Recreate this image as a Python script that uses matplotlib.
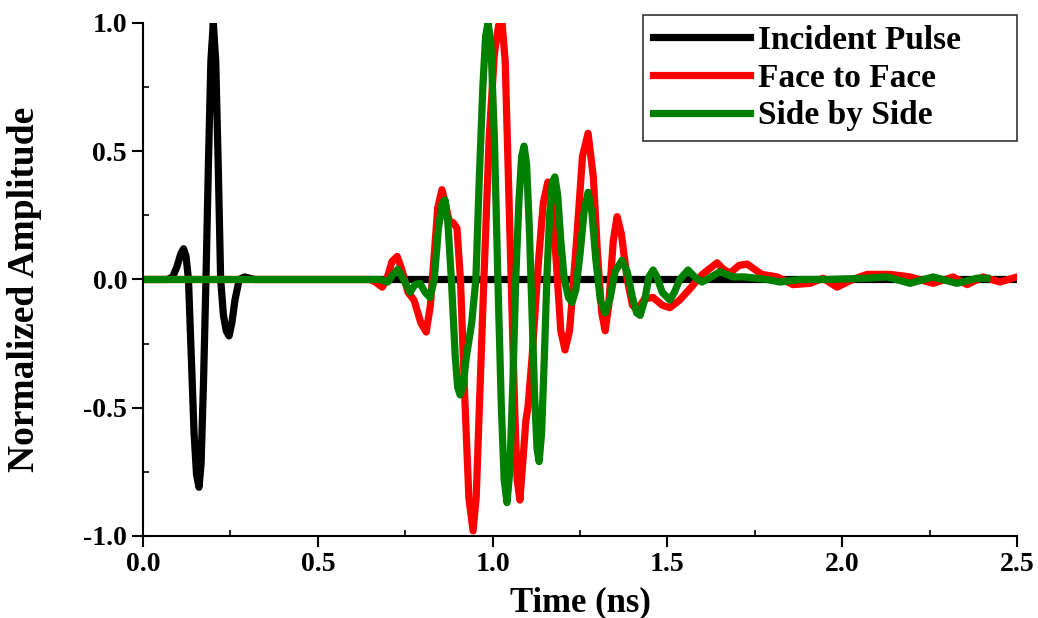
import matplotlib.pyplot as plt
from matplotlib.ticker import MultipleLocator

plt.rcParams['font.family'] = ['Liberation Serif', 'DejaVu Serif']
plt.rcParams['font.weight'] = 'bold'
plt.rcParams['axes.unicode_minus'] = False

# values (time in ns, normalized amplitude)
t_inc = [0.0, 0.07, 0.085, 0.097, 0.108, 0.116, 0.123, 0.13, 0.138, 0.146, 0.153,
         0.16, 0.166, 0.173, 0.18, 0.187, 0.194, 0.201, 0.208, 0.215, 0.222,
         0.23, 0.238, 0.246, 0.254, 0.263, 0.275, 0.29, 0.32, 2.5]
v_inc = [0.0, 0.0, 0.01, 0.05, 0.1, 0.12, 0.09, 0.0, -0.3, -0.6, -0.76,
         -0.81, -0.72, -0.4, 0.0, 0.45, 0.85, 1.0, 0.85, 0.45, 0.0,
         -0.14, -0.2, -0.22, -0.17, -0.08, 0.0, 0.01, 0.0, 0.0]

t_face = [0.0, 0.649, 0.665, 0.684, 0.697, 0.712, 0.727, 0.74, 0.758, 0.775, 0.795,
          0.81, 0.822, 0.832, 0.843, 0.855, 0.866, 0.875, 0.888, 0.898, 0.908,
          0.92, 0.932, 0.944, 0.953, 0.962, 0.975, 0.99, 1.005, 1.017, 1.027,
          1.036, 1.045, 1.053, 1.063, 1.07, 1.078, 1.087, 1.095, 1.101, 1.113,
          1.13, 1.145, 1.158, 1.17, 1.183, 1.195, 1.207, 1.22, 1.24, 1.257,
          1.273, 1.288, 1.3, 1.312, 1.322, 1.332, 1.345, 1.356, 1.368, 1.385,
          1.4, 1.413, 1.435, 1.459, 1.485, 1.507, 1.535, 1.565, 1.6, 1.642,
          1.66, 1.679, 1.705, 1.728, 1.77, 1.814, 1.859, 1.908, 1.945, 1.985,
          2.03, 2.071, 2.137, 2.194, 2.26, 2.317, 2.357, 2.403, 2.451, 2.5]
v_face = [0.0, 0.0, -0.01, -0.03, 0.0, 0.07, 0.09, 0.04, -0.05, -0.08, -0.17,
          -0.205, -0.1, 0.08, 0.28, 0.35, 0.29, 0.23, 0.22, 0.2, 0.0,
          -0.45, -0.85, -0.98, -0.85, -0.5, 0.0, 0.55, 0.88, 0.99, 1.0,
          0.85, 0.4, 0.0, -0.5, -0.78, -0.86, -0.7, -0.55, -0.5, -0.3,
          0.05, 0.3, 0.38, 0.3, 0.05, -0.2, -0.275, -0.2, 0.15, 0.48,
          0.57, 0.4, 0.1, -0.13, -0.2, -0.1, 0.15, 0.245, 0.18, 0.0,
          -0.1, -0.12, -0.075, -0.07, -0.1, -0.11, -0.08, -0.035, 0.02, 0.065,
          0.04, 0.025, 0.055, 0.06, 0.02, 0.01, -0.02, -0.015, 0.005, -0.03,
          0.0, 0.02, 0.02, 0.01, -0.015, 0.01, -0.02, 0.01, -0.01, 0.01]

t_side = [0.0, 0.678, 0.7, 0.715, 0.729, 0.745, 0.764, 0.778, 0.792, 0.807, 0.821,
          0.833, 0.845, 0.856, 0.864, 0.872, 0.882, 0.893, 0.9, 0.907, 0.915,
          0.925, 0.94, 0.952, 0.962, 0.972, 0.98, 0.987, 0.995, 1.005, 1.015,
          1.025, 1.033, 1.041, 1.049, 1.058, 1.066, 1.075, 1.083, 1.09, 1.097,
          1.105, 1.112, 1.12, 1.127, 1.133, 1.14, 1.148, 1.155, 1.163, 1.171,
          1.178, 1.186, 1.195, 1.205, 1.217, 1.227, 1.238, 1.25, 1.262, 1.273,
          1.284, 1.295, 1.308, 1.322, 1.335, 1.35, 1.37, 1.385, 1.4, 1.412,
          1.422, 1.435, 1.447, 1.459, 1.47, 1.485, 1.507, 1.52, 1.535, 1.559,
          1.578, 1.599, 1.625, 1.65, 1.688, 1.72, 1.785, 1.822, 1.88, 1.957,
          2.071, 2.128, 2.194, 2.26, 2.328, 2.386, 2.414]
v_side = [0.0, 0.0, -0.01, 0.02, 0.04, 0.0, -0.05, -0.02, -0.015, -0.05, -0.07,
          0.0, 0.2, 0.3, 0.31, 0.22, 0.0, -0.3, -0.42, -0.45, -0.42,
          -0.3, -0.17, 0.0, 0.4, 0.75, 0.95, 1.0, 0.92, 0.55, 0.0,
          -0.5, -0.78, -0.87, -0.75, -0.4, 0.0, 0.3, 0.48, 0.52, 0.45,
          0.2, -0.1, -0.45, -0.66, -0.71, -0.6, -0.3, 0.0, 0.25, 0.38,
          0.4, 0.33, 0.15, 0.0, -0.07, -0.09, -0.04, 0.1, 0.27, 0.34,
          0.26, 0.08, -0.08, -0.13, -0.08, 0.03, 0.075, 0.03, -0.07, -0.13,
          -0.14, -0.08, 0.01, 0.037, 0.01, -0.05, -0.08, -0.05, 0.0, 0.037,
          0.01, -0.01, 0.01, 0.03, 0.01, 0.01, 0.0, -0.01, 0.0, 0.0,
          0.005, 0.01, -0.015, 0.01, -0.015, 0.005, 0.005]

fig = plt.figure(figsize=(10.38, 6.18), dpi=100)
ax = fig.add_axes([0.1378, 0.1327, 0.842, 0.8301])

lw = 5.2
ax.plot(t_inc, v_inc, color='black', lw=lw, solid_joinstyle='round', label='Incident Pulse')
ax.plot(t_face, v_face, color='red', lw=lw, solid_joinstyle='round', label='Face to Face')
ax.plot(t_side, v_side, color='green', lw=lw, solid_joinstyle='round', label='Side by Side')

ax.set_xlim(0, 2.5)
ax.set_ylim(-1, 1)
ax.xaxis.set_major_locator(MultipleLocator(0.5))
ax.xaxis.set_minor_locator(MultipleLocator(0.25))
ax.yaxis.set_major_locator(MultipleLocator(0.5))
ax.yaxis.set_minor_locator(MultipleLocator(0.25))
ax.xaxis.set_major_formatter('{x:.1f}')
ax.yaxis.set_major_formatter('{x:.1f}')
ax.tick_params(which='major', direction='out', length=8, width=1.5, labelsize=20)
ax.tick_params(which='minor', direction='in', length=4, width=1.2)
for lab in ax.get_xticklabels() + ax.get_yticklabels():
    lab.set_fontweight('bold')

for s in ['top', 'right']:
    ax.spines[s].set_visible(False)
for s in ['left', 'bottom']:
    ax.spines[s].set_linewidth(1.5)

ax.set_xlabel('Time (ns)', fontsize=25, fontweight='bold')
ax.set_ylabel('Normalized Amplitude', fontsize=27, fontweight='bold')
ax.xaxis.set_label_coords(0.5, -0.098)
ax.yaxis.set_label_coords(-0.116, 0.48)

leg = ax.legend(loc='upper left', bbox_to_anchor=(643 / 1038, 1 - 133 / 618, 374 / 1038, 118 / 618),
                bbox_transform=fig.transFigure, mode='expand', fontsize=24, frameon=True,
                fancybox=False, handlelength=2.9, handletextpad=0.25,
                borderpad=0.3, labelspacing=0.2, borderaxespad=0)
leg.get_frame().set_edgecolor('black')
leg.get_frame().set_linewidth(1.2)
for txt in leg.get_texts():
    txt.set_fontweight('bold')

fig.savefig('out.png', dpi=100)
